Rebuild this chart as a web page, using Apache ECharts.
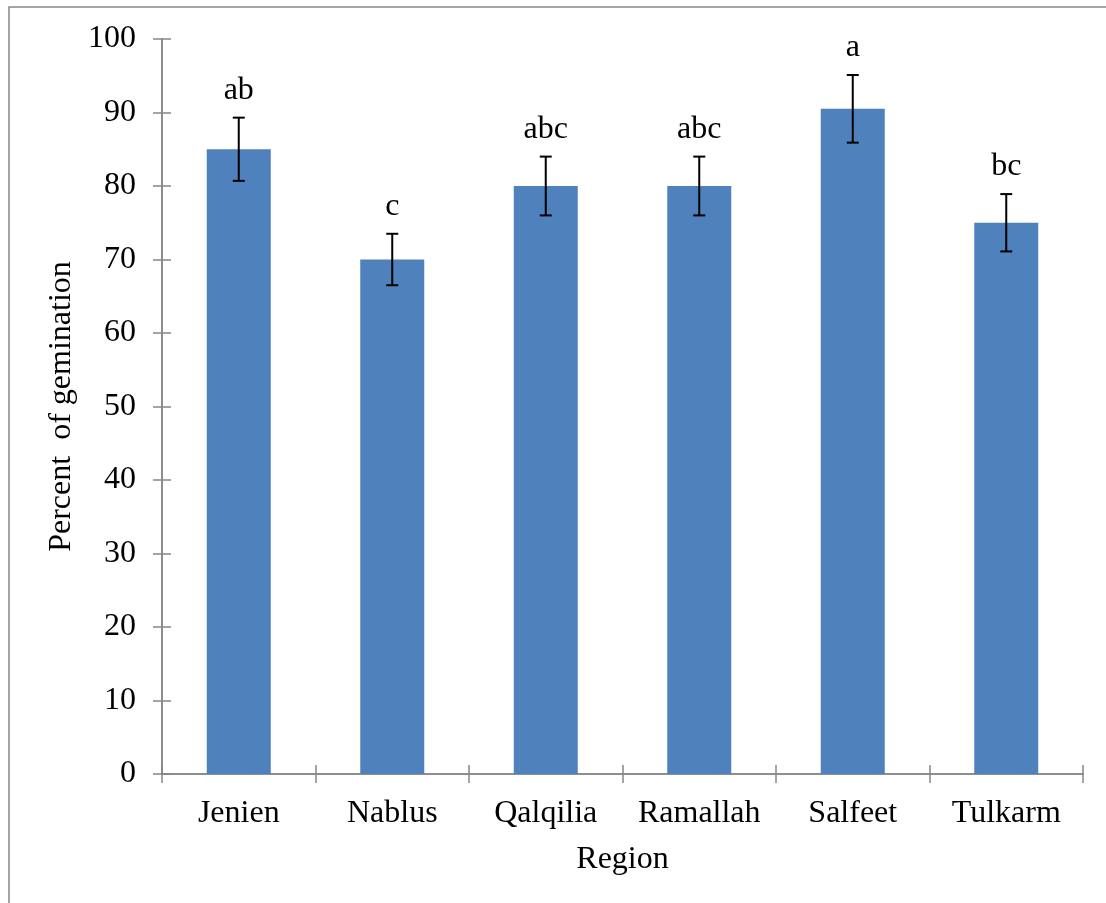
<!DOCTYPE html>
<html>
<head>
<meta charset="utf-8">
<script src="https://cdn.jsdelivr.net/npm/echarts@6/dist/echarts.min.js"></script>
<style>
  html, body { margin: 0; padding: 0; background: #ffffff; }
  #chart { width: 1106px; height: 903px; }
</style>
</head>
<body>
<div id="chart"></div>
<script>
// Germination percentage by region, with standard error and significance letters
const regions = ['Jenien', 'Nablus', 'Qalqilia', 'Ramallah', 'Salfeet', 'Tulkarm'];
const germination = [85, 70, 80, 80, 90.5, 75];
const stdError = [4.3, 3.5, 4.0, 4.0, 4.6, 3.9];
const letters = ['ab', 'c', 'abc', 'abc', 'a', 'bc'];
const yTicks = [0, 100, 10]; // min, max, interval

const FONT = '"Liberation Serif", "Times New Roman", serif';
const FONT_SIZE = 32;
const AXIS_GREY = '#868686';
const BAR_BLUE = '#4F81BD';

const chart = echarts.init(document.getElementById('chart'), null, { renderer: 'canvas' });

const errorData = regions.map((r, i) => [i, germination[i], stdError[i]]);

function baseY(extra) {
  return Object.assign({
    type: 'value',
    min: yTicks[0],
    max: yTicks[1],
    interval: yTicks[2],
    position: 'left',
    axisLine: { show: true, lineStyle: { color: AXIS_GREY, width: 1.5 } },
    splitLine: { show: false }
  }, extra);
}

function baseX(extra) {
  return Object.assign({
    type: 'category',
    data: regions,
    position: 'bottom',
    boundaryGap: true,
    axisLine: { show: true, lineStyle: { color: AXIS_GREY, width: 1.5 } },
    splitLine: { show: false }
  }, extra);
}

chart.setOption({
  animation: false,
  backgroundColor: '#ffffff',
  graphic: [{
    type: 'rect',
    shape: { x: 9, y: 7, width: 1200, height: 1000 },
    style: { fill: 'none', stroke: AXIS_GREY, lineWidth: 1.5 },
    silent: true
  }],
  grid: { left: 162, top: 39, right: 23, bottom: 129, containLabel: false },
  xAxis: [
    baseX({
      name: 'Region',
      nameLocation: 'middle',
      nameGap: 70,
      nameTextStyle: { fontFamily: FONT, fontSize: FONT_SIZE, color: '#000' },
      axisTick: { show: true, inside: false, length: 9, lineStyle: { color: AXIS_GREY, width: 1.5 } },
      axisLabel: { fontFamily: FONT, fontSize: FONT_SIZE, color: '#000', margin: 24, interval: 0 }
    }),
    baseX({
      axisTick: { show: true, inside: true, length: 9, lineStyle: { color: AXIS_GREY, width: 1.5 } },
      axisLabel: { show: false }
    })
  ],
  yAxis: [
    baseY({
      name: 'Percent  of gemination',
      nameLocation: 'middle',
      nameGap: 84,
      nameRotate: 90,
      nameTextStyle: { fontFamily: FONT, fontSize: FONT_SIZE, color: '#000' },
      axisTick: { show: true, inside: false, length: 9, lineStyle: { color: AXIS_GREY, width: 1.5 } },
      axisLabel: { fontFamily: FONT, fontSize: FONT_SIZE, color: '#000', margin: 26 }
    }),
    baseY({
      axisTick: { show: true, inside: true, length: 9, lineStyle: { color: AXIS_GREY, width: 1.5 } },
      axisLabel: { show: false }
    })
  ],
  series: [
    {
      type: 'bar',
      data: germination,
      barWidth: 64,
      xAxisIndex: 0,
      yAxisIndex: 0,
      itemStyle: { color: BAR_BLUE },
      z: 2
    },
    {
      type: 'custom',
      xAxisIndex: 0,
      yAxisIndex: 0,
      data: errorData,
      z: 5,
      renderItem: function (params, api) {
        const idx = api.value(0);
        const mean = api.value(1);
        const se = api.value(2);
        const top = api.coord([idx, mean + se]);
        const bottom = api.coord([idx, mean - se]);
        const cap = 6;
        const style = { stroke: '#000', lineWidth: 2 };
        return {
          type: 'group',
          children: [
            { type: 'line', shape: { x1: top[0], y1: top[1], x2: bottom[0], y2: bottom[1] }, style: style },
            { type: 'line', shape: { x1: top[0] - cap, y1: top[1], x2: top[0] + cap, y2: top[1] }, style: style },
            { type: 'line', shape: { x1: bottom[0] - cap, y1: bottom[1], x2: bottom[0] + cap, y2: bottom[1] }, style: style },
            {
              type: 'text',
              style: {
                text: letters[params.dataIndex],
                x: top[0],
                y: top[1] - 11,
                align: 'center',
                verticalAlign: 'bottom',
                font: FONT_SIZE + 'px ' + FONT,
                fill: '#000'
              }
            }
          ]
        };
      }
    }
  ]
});
</script>
</body>
</html>
